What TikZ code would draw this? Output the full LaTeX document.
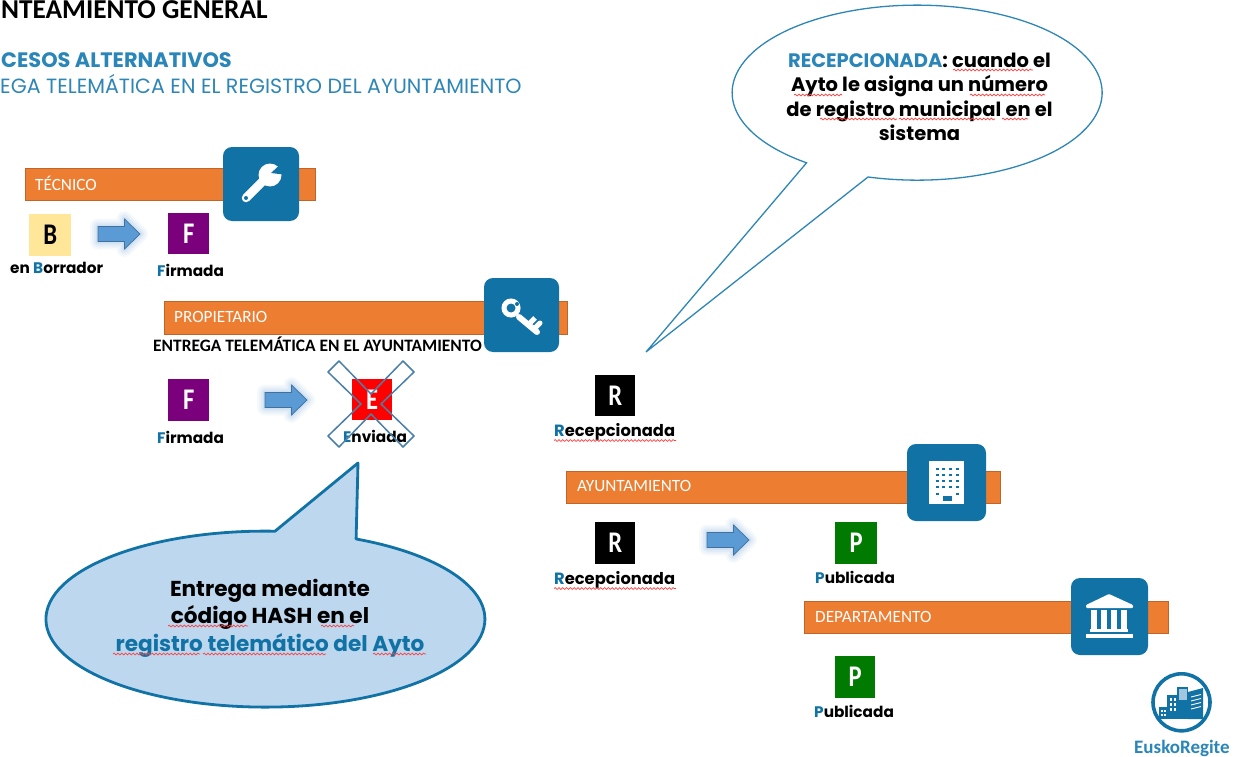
\documentclass[tikz,border=0pt]{standalone}
\usepackage{fontspec}
\setmainfont{Poppins}
\newfontfamily\calfont{Carlito}
\newfontfamily\letterfont[FakeStretch=0.82]{Carlito}
\usetikzlibrary{decorations.pathmorphing}
\definecolor{barfill}{HTML}{ED7D31}
\definecolor{baredge}{HTML}{C0652A}
\definecolor{iconblue}{HTML}{1172A6}
\definecolor{headblue}{HTML}{2A86B8}
\definecolor{thinblue}{HTML}{2E86B6}
\definecolor{ballfill}{HTML}{BDD7EE}
\definecolor{arrfill}{HTML}{5B9BD5}
\definecolor{arredge}{HTML}{41719C}
\definecolor{crossedge}{HTML}{4A7FA8}
\definecolor{purp}{HTML}{7B007B}
\definecolor{grn}{HTML}{007A00}
\definecolor{yel}{HTML}{FFE699}
\newcommand{\bl}[1]{\textcolor{iconblue}{#1}}
\newcommand{\fs}[1]{\fontsize{#1}{#1}\selectfont}
\tikzset{
  x=1pt,y=-1pt,
  orangebar/.style={draw=baredge,fill=barfill,line width=0.9pt},
  barlabel/.style={anchor=base west,inner sep=0pt,text=white,font=\calfont\fs{17.2}},
  iconbox/.style={fill=iconblue,rounded corners=9pt},
  lettersq/.style={inner sep=0pt,font=\letterfont\bfseries\fs{30},text=white,anchor=north west},
  statelabel/.style={anchor=base west,inner sep=0pt,font=\bfseries\fs{15.3},text=black},
  wavy/.style={draw=red!75!white,line width=0.7pt,decorate,decoration={snake,amplitude=0.9pt,segment length=3.8pt}},
  glowline/.style={draw=arrfill,line join=round,fill=none},
}
\newcommand{\arrowpath}[2]{(#1,#2-7.5) -- (#1+26.5,#2-7.5) -- (#1+26.5,#2-15) -- (#1+42,#2) -- (#1+26.5,#2+15) -- (#1+26.5,#2+7.5) -- (#1,#2+7.5) -- cycle}
\newcommand{\glowarrow}[2]{%
  \draw[glowline,line width=16pt,draw opacity=.05] \arrowpath{#1}{#2};
  \draw[glowline,line width=12pt,draw opacity=.07] \arrowpath{#1}{#2};
  \draw[glowline,line width=8pt,draw opacity=.09] \arrowpath{#1}{#2};
  \draw[glowline,line width=4pt,draw opacity=.12] \arrowpath{#1}{#2};
  \draw[fill=arrfill,draw=arredge,line width=.7pt,line join=miter] \arrowpath{#1}{#2};
}
\begin{document}
\begin{tikzpicture}
\useasboundingbox (0,0) rectangle (1239,757);
\fill[white] (0,0) rectangle (1239,757);

% headings
\node[anchor=base west,inner sep=0pt,font=\calfont\bfseries\fs{27.3}] (title) at (1,19) {NTEAMIENTO GENERAL};
\node[anchor=base west,inner sep=0pt,font=\bfseries\fs{20.9},text=headblue] (sub1) at (1,68) {CESOS ALTERNATIVOS};
\node[anchor=base west,inner sep=0pt,font=\fs{20.6},text=thinblue] (sub2) at (0,94) {EGA TELEMÁTICA EN EL REGISTRO DEL AYUNTAMIENTO};

% bars
\draw[orangebar] (25,168) rectangle (315,200);
\draw[orangebar] (164,301) rectangle (567,334);
\draw[orangebar] (566,471) rectangle (1000,503);
\draw[orangebar] (804,601) rectangle (1168,633);
\node[barlabel] (ltec) at (35,190) {TÉCNICO};
\node[barlabel] (lpro) at (174,322) {PROPIETARIO};
\node[barlabel] (layu) at (577,491) {AYUNTAMIENTO};
\node[barlabel] (ldep) at (815,622) {DEPARTAMENTO};
\node[anchor=base west,inner sep=0pt,font=\calfont\bfseries\fs{17.4}] (entrega) at (153,351) {ENTREGA TELEMÁTICA EN EL AYUNTAMIENTO};

% wrench icon
\fill[iconbox] (223,147) rectangle (299,221);
\draw[white,line width=8.5pt,line cap=round] (246,198) -- (266,178);
\fill[white] (270,175) circle (11.5);
\fill[iconblue] (271,173) -- (284,161) -- (287,175) -- cycle;
\fill[iconblue] (246,198) circle (2);

% key icon
\fill[iconbox] (484,278) rectangle (559,352);
\draw[white,line width=5pt] (511,308) circle (7);
\fill[iconblue] (517,304) circle (2);
\draw[white,line width=6pt,line cap=round] (519,317) -- (537,332);
\draw[white,line width=5pt] (528,325) -- (535,318);
\draw[white,line width=5pt,line cap=round] (534,329) -- (540,323);

% building icon
\fill[iconbox] (907,444) rectangle (986,521);
\fill[white] (929,461) rectangle (964,504);
\foreach \yy in {469,475,481,487}
  \foreach \xx in {937,943,950,957}
    \fill[iconblue] (\xx-1.5,\yy-1.2) rectangle (\xx+1.5,\yy+1.2);
\foreach \xx in {937,957}
  \fill[iconblue] (\xx-1.5,492.8) rectangle (\xx+1.5,495.2);
\fill[iconblue] (943,496) rectangle (952,501);

% bank icon
\fill[iconbox] (1071,578) rectangle (1148,655);
\fill[white,rounded corners=1pt] (1109,594) -- (1133,605) -- (1133,608) -- (1086,608) -- (1086,605) -- cycle;
\foreach \xx in {1094,1104,1114,1124}
  \fill[white] (\xx-2.7,610) rectangle (\xx+2.7,630);
\fill[white] (1090,629) rectangle (1128,632);
\fill[white] (1086,634) rectangle (1133,638);

% logo
\draw[iconblue,line width=3.6pt] (1181.5,702.3) circle (28.5);
\fill[iconblue] (1177,687) rectangle (1188,719);
\fill[iconblue] (1167,695) rectangle (1178,719);
\fill[iconblue] (1188,692) -- (1203,688) -- (1203,719) -- (1188,719) -- cycle;
\fill[iconblue] (1159,707) rectangle (1167,719);
\fill[white!60!iconblue] (1178.5,689) rectangle (1186.5,700);
\foreach \yy in {698,703,708}
  \foreach \xx in {1169.5,1173.5}
    \fill[white] (\xx,\yy) rectangle (\xx+2.6,\yy+2.6);
\foreach \yy in {710,714}
  \foreach \xx in {1161,1164}
    \fill[white] (\xx,\yy) rectangle (\xx+1.8,\yy+2);
\foreach \yy in {696,700,704,708}
  \draw[white,line width=.9pt] (1191,\yy+1) -- (1201,\yy-1.5);
\node[anchor=base west,inner sep=0pt,font=\calfont\bfseries\fs{19},text=headblue] (logoname) at (1134,753) {EuskoRegite};

% state squares
\node[lettersq,fill=yel,text=black,minimum width=42pt,minimum height=42pt] (sqB) at (29,214) {B};
\node[lettersq,fill=purp,minimum width=41pt,minimum height=41pt] (sqF1) at (168,213) {F};
\node[lettersq,fill=purp,minimum width=41pt,minimum height=42pt] (sqF2) at (168,379) {F};
\node[lettersq,fill=red,minimum width=40pt,minimum height=41pt] (sqE) at (352,379) {E};
\node[lettersq,fill=black,minimum width=40pt,minimum height=41pt] (sqR1) at (595,375) {R};
\node[lettersq,fill=black,minimum width=40pt,minimum height=42pt] (sqR2) at (595,522) {R};
\node[lettersq,fill=grn,minimum width=42pt,minimum height=42pt] (sqP1) at (835,522) {P};
\node[lettersq,fill=grn,minimum width=40pt,minimum height=42pt] (sqP2) at (835,656) {P};

% state labels
\node[statelabel] (lbB) at (10,273) {en \bl{B}orrador};
\node[statelabel] (lbF1) at (157,276) {\bl{F}irmada};
\node[statelabel] (lbF2) at (157,443) {\bl{F}irmada};
\node[statelabel] (lbE) at (343,442) {\bl{E}nviada};
\node[statelabel,font=\bfseries\fs{16.3}] (lbR1) at (554,436) {\bl{R}ecepcionada};
\node[statelabel,font=\bfseries\fs{16.3}] (lbR2) at (554,584) {\bl{R}ecepcionada};
\node[statelabel] (lbP1) at (815,583) {\bl{P}ublicada};
\node[statelabel] (lbP2) at (814,717) {\bl{P}ublicada};
\draw[wavy] (554,440.5) -- (676,440.5);
\draw[wavy] (554,588.5) -- (676,588.5);

% block arrows
\glowarrow{98}{234}
\glowarrow{265}{400}
\glowarrow{707}{540}

% cross over the state "Enviada"
\draw[crossedge,line width=1.5pt,line join=round]
  (339,361) -- (328,372) -- (361,404) -- (328,436) -- (339,447) -- (371,414)
  -- (403,447) -- (414,436) -- (381,404) -- (414,372) -- (403,361) -- (371,394) -- cycle;

% upper balloon
\draw[thinblue,line width=1.3pt,fill=white,line join=miter]
  (868,177) arc[start angle=254.6,end angle=593.3,x radius=185pt,y radius=87.5pt]
  -- (646,352) -- cycle;
\node[align=center,inner sep=0pt,font=\bfseries\fontsize{19.5}{24.5}\selectfont] (ball1) at (919.5,97)
  {\textcolor{headblue}{RECEPCIONADA}: cuando el\\Ayto le asigna un número\\de registro municipal en el\\sistema};
\draw[wavy] (953,70) -- (1033,70);
\draw[wavy] (794,95) -- (842,95);
\draw[wavy] (970,95) -- (1045,95);
\draw[wavy] (820,119) -- (897,119);
\draw[wavy] (899,119) -- (995,119);
\draw[wavy] (1002,119) -- (1028,119);

% lower balloon
\draw[iconblue,line width=2.8pt,fill=ballfill,line join=round]
  (275,531.2) arc[start angle=87.5,end angle=425.6,x radius=219.5pt,y radius=88pt]
  -- (358,463) -- cycle;
\node[align=center,inner sep=0pt,font=\bfseries\fontsize{21.6}{27.5}\selectfont] (ball2) at (270,618)
  {Entrega mediante\\código HASH en el\\\bl{registro telemático del Ayto}};
\draw[wavy] (168,626) -- (248,626);
\draw[wavy] (321,626) -- (354,626);
\draw[wavy] (113,654) -- (200,654);
\draw[wavy] (203,654) -- (326,654);
\draw[wavy] (373,654) -- (426,654);
\end{tikzpicture}
\end{document}
